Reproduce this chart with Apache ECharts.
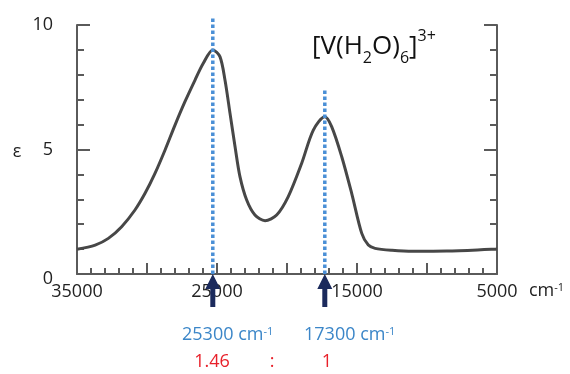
<!DOCTYPE html>
<html><head><meta charset="utf-8">
<script src="https://cdn.jsdelivr.net/npm/echarts@6/dist/echarts.min.js"></script>
<style>html,body{margin:0;padding:0;background:#fff}#c{width:570px;height:374px}</style>
</head><body><div id="c"></div>
<script>
// Absorption spectrum of [V(H2O)6]3+
const wavenumber = [35000, 33700, 32760, 31810, 30860, 30140, 29430, 28710, 28000, 27290, 26570, 25980, 25300, 24790, 24430, 24070, 23710, 23360, 22880, 22290, 21570, 20740, 19910, 18950, 18120, 17300, 16810, 16090, 15380, 14660, 14190, 13710, 12500, 11000, 8600, 5000];
const epsilon    = [0.99, 1.16, 1.43, 1.9, 2.57, 3.24, 4.04, 4.98, 5.98, 6.92, 7.79, 8.46, 9.0, 8.73, 7.79, 6.45, 5.11, 3.91, 2.97, 2.37, 2.14, 2.37, 3.11, 4.45, 5.78, 6.32, 5.92, 4.71, 3.24, 1.63, 1.16, 1.03, 0.95, 0.91, 0.92, 1.0];
const xLabelValues = [35000, 25000, 15000, 5000];
const yLabelValues = [0, 5, 10];
const peakWavenumbers = [25300, 17300];
const peakLineTops = [10.28, 7.47];
const peakTexts = ['25300', '17300'];
const ratioTexts = ['1.46', '1'];

const FONT = 'Open Sans';
const axisColor = '#5a5a5a';
const chart = echarts.init(document.getElementById('c'), null, {renderer: 'canvas'});

const curve = wavenumber.map((w, i) => [w, epsilon[i]]);

const dottedSeries = peakWavenumbers.map((w, i) => ({
  type: 'line',
  data: [[w, 0], [w, peakLineTops[i]]],
  symbol: 'none',
  clip: false,
  z: 4,
  lineStyle: {color: '#4a8fd6', width: 3.5, type: [3.5, 2.5]},
  silent: true
}));

const yAxisCommon = {
  type: 'value', min: 0, max: 10, interval: 5,
  axisLine: {show: true, lineStyle: {color: axisColor, width: 2}},
  axisTick: {show: true, inside: true, length: 13, lineStyle: {color: axisColor, width: 2}},
  minorTick: {show: true, splitNumber: 5, length: 7, lineStyle: {color: axisColor, width: 2}},
  splitLine: {show: false}
};

chart.setOption({
  animation: false,
  backgroundColor: '#fff',
  grid: {left: 77, right: 73, top: 25, bottom: 100, containLabel: false},
  xAxis: {
    type: 'value', min: 5000, max: 35000, interval: 5000, inverse: true,
    axisLine: {show: true, onZero: false, lineStyle: {color: axisColor, width: 2}},
    axisTick: {show: true, inside: true, length: 11, lineStyle: {color: axisColor, width: 2}},
    minorTick: {show: true, splitNumber: 5, length: 6, lineStyle: {color: axisColor, width: 2}},
    splitLine: {show: false},
    axisLabel: {
      margin: 9, fontFamily: FONT, fontSize: 18, color: '#222',
      showMinLabel: true, showMaxLabel: true,
      formatter: v => xLabelValues.includes(v) ? String(v) : ''
    }
  },
  yAxis: [
    Object.assign({}, yAxisCommon, {
      position: 'left',
      axisLabel: {margin: 24, fontFamily: FONT, fontSize: 18, color: '#222',
        formatter: v => v === 0 ? '{z|0}' : (yLabelValues.includes(v) ? String(v) : ''),
        rich: {z: {fontFamily: FONT, fontSize: 18, color: '#222', padding: [10, 0, 0, 0]}}}
    }),
    Object.assign({}, yAxisCommon, {position: 'right', axisLabel: {show: false}})
  ],
  series: [
    {
      type: 'line', data: curve, smooth: 0.3, symbol: 'none', z: 3,
      lineStyle: {color: '#474747', width: 3}, silent: true
    },
    ...dottedSeries,
    {
      type: 'scatter',
      data: peakWavenumbers.map(w => [w, 0]),
      symbol: 'path://M7.5 0L15 15L10 15L10 33L5 33L5 15L0 15Z',
      symbolSize: [15, 33],
      symbolOffset: [0, 16.5],
      clip: false,
      z: 6,
      itemStyle: {color: '#1b2a5c', opacity: 1},
      silent: true
    }
  ],
  graphic: [
    {type: 'text', left: 312, top: 28, style: {
      text: '[V(H{sub|2}O){sub|6}]{sup|3+}', fontFamily: FONT, fontSize: 26, fill: '#111',
      rich: {
        sub: {fontSize: 16, fontFamily: FONT, fill: '#111', verticalAlign: 'bottom', lineHeight: 38},
        sup: {fontSize: 16, fontFamily: FONT, fill: '#111', verticalAlign: 'top', lineHeight: 32}
      }}},
    {type: 'text', x: 17, y: 152, style: {text: 'ε', fontFamily: FONT, fontSize: 18, fill: '#222', align: 'center', verticalAlign: 'middle'}},
    {type: 'text', x: 529, y: 282, style: {text: 'cm{sup|-1}', fontFamily: FONT, fontSize: 18, fill: '#222',
      rich: {sup: {fontSize: 11, fontFamily: FONT, fill: '#222', verticalAlign: 'top'}}}},
    {type: 'text', x: 182, y: 326, style: {text: peakTexts[0] + ' cm{sup|-1}', fontFamily: FONT, fontSize: 18, fill: '#3b86c8',
      rich: {sup: {fontSize: 11, fontFamily: FONT, fill: '#3b86c8', verticalAlign: 'top'}}}},
    {type: 'text', x: 304, y: 326, style: {text: peakTexts[1] + ' cm{sup|-1}', fontFamily: FONT, fontSize: 18, fill: '#3b86c8',
      rich: {sup: {fontSize: 11, fontFamily: FONT, fill: '#3b86c8', verticalAlign: 'top'}}}},
    {type: 'text', x: 212, y: 362, style: {text: ratioTexts[0], fontFamily: FONT, fontSize: 18, fill: '#e8202a', align: 'center', verticalAlign: 'middle'}},
    {type: 'text', x: 272, y: 362, style: {text: ':', fontFamily: FONT, fontSize: 18, fill: '#e8202a', align: 'center', verticalAlign: 'middle'}},
    {type: 'text', x: 327, y: 362, style: {text: ratioTexts[1], fontFamily: FONT, fontSize: 18, fill: '#e8202a', align: 'center', verticalAlign: 'middle'}}
  ]
});
</script></body></html>
